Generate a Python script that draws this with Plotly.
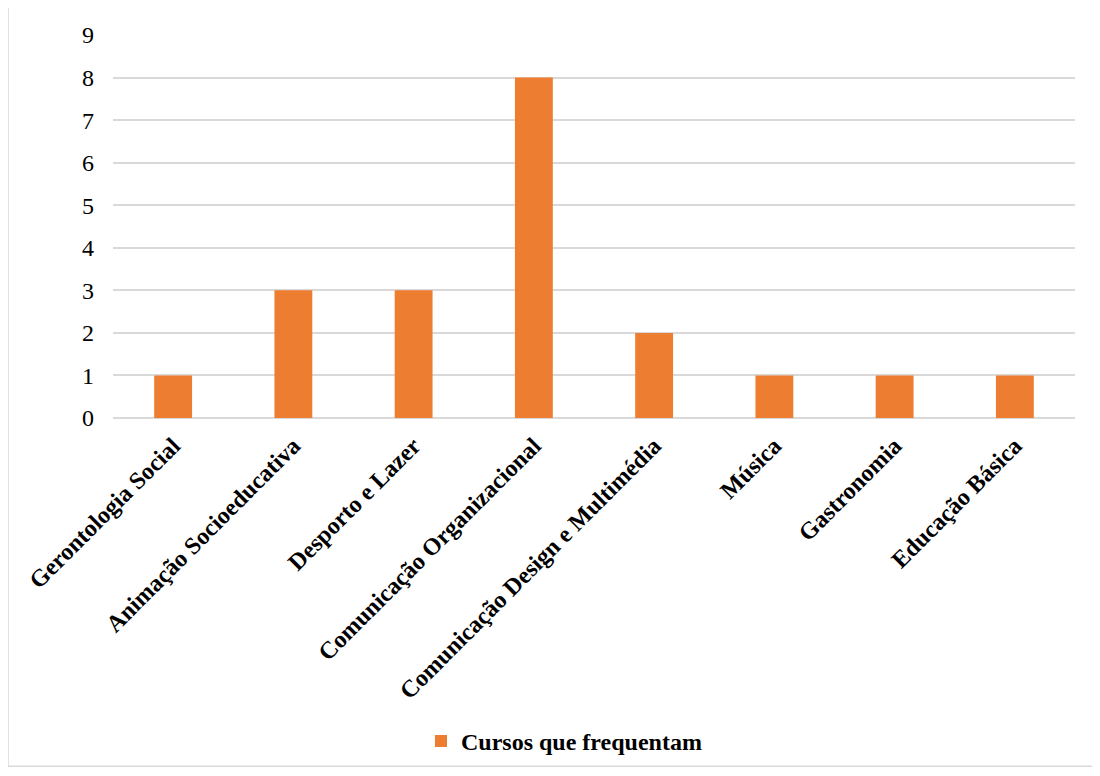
import plotly.graph_objects as go

categories = ["Gerontologia Social", "Animação Socioeducativa", "Desporto e Lazer",
              "Comunicação Organizacional", "Comunicação Design e Multimédia",
              "Música", "Gastronomia", "Educação Básica"]
values = [1, 3, 3, 8, 2, 1, 1, 1]
series_name = "Cursos que frequentam"

OFF = 8  # page body margin
W, H = 1100 - OFF, 776 - OFF
L, T = 113 - OFF, 35 - OFF
pw, ph = 962, 385
R, B = W - L - pw, H - T - ph

fig = go.Figure(go.Bar(x=categories, y=values, name=series_name,
                       marker=dict(color="#ED7D31", line=dict(width=0))))

def py(y_ref):
    return (T + ph - (y_ref - OFF)) / ph

def px(x_ref):
    return ((x_ref - OFF) - L) / pw

fig.update_layout(
    width=W, height=H,
    margin=dict(l=L, r=R, t=T, b=B),
    paper_bgcolor="white", plot_bgcolor="white",
    bargap=0.685,
    font=dict(family="Liberation Serif, Times New Roman, serif", color="black"),
    showlegend=True,
    legend=dict(orientation="h", x=0.5 - 30 / pw, xanchor="center",
                y=py(745), yanchor="middle",
                font=dict(size=24, family="Liberation Serif", color="black", weight="bold"),
                itemwidth=30),
    xaxis=dict(tickangle=-45, showgrid=False, showline=False, ticks="",
               tickfont=dict(size=24, family="Liberation Serif", weight="bold"),
               ticklabelstandoff=8, automargin=False),
    yaxis=dict(range=[0, 9], dtick=1, showgrid=True, gridcolor="#D9D9D9", gridwidth=1.5,
               zeroline=True, zerolinecolor="#D9D9D9", zerolinewidth=1.5,
               showline=False, ticks="", tickfont=dict(size=24), ticklabelstandoff=18,
               automargin=False),
    shapes=[dict(type="rect", xref="paper", yref="paper",
                 x0=px(8), x1=px(1098), y0=py(770), y1=py(6),
                 line=dict(color="#D9D9D9", width=1.5), fillcolor="rgba(0,0,0,0)",
                 layer="below")],
)

fig.write_html("out.html")
